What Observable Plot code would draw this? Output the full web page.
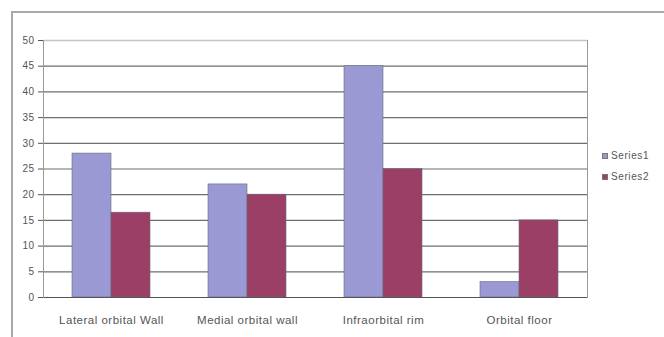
<!DOCTYPE html>
<html>
<head>
<meta charset="utf-8">
<script src="https://cdn.jsdelivr.net/npm/d3@7"></script>
<script src="https://cdn.jsdelivr.net/npm/@observablehq/plot@0.6"></script>
<style>
  html, body { margin: 0; padding: 0; background: #fff; }
  #wrap { position: relative; width: 664px; height: 337px; overflow: hidden; font-family: "Liberation Sans", Arial, sans-serif; }
  #border { position: absolute; left: 11px; top: 11px; width: 720px; height: 400px; border-left: 2px solid #a8a8a8; border-top: 2px solid #a8a8a8; }
  #chart { position: absolute; left: 0; top: 0; }
  #legend { position: absolute; left: 602px; top: 149px; font-size: 10px; letter-spacing: 0.6px; color: #555; }
  #legend div { display: flex; align-items: center; height: 13px; margin-bottom: 8px; }
  #legend span.sw { display: inline-block; width: 6px; height: 6px; margin-right: 3px; border: 1px solid #777; box-sizing: border-box; }
</style>
</head>
<body>
<div id="wrap">
  <div id="border"></div>
  <div id="chart"></div>
  <div id="legend"></div>
</div>
<script>
const categories = ["Lateral orbital Wall", "Medial orbital wall", "Infraorbital rim", "Orbital floor"];
const seriesNames = ["Series1", "Series2"];
const series1 = [28, 22, 45, 3];
const series2 = [16.5, 20, 25, 15];
const yTicks = [0, 5, 10, 15, 20, 25, 30, 35, 40, 45, 50];
const colors = ["#9b99d4", "#9c3f66"];

const data = [];
categories.forEach((c, i) => {
  data.push({cat: c, series: seriesNames[0], value: series1[i]});
  data.push({cat: c, series: seriesNames[1], value: series2[i]});
});

const plot = Plot.plot({
  width: 664,
  height: 337,
  marginLeft: 43,
  marginRight: 77,
  marginTop: 40,
  marginBottom: 40,
  style: {fontFamily: "Liberation Sans, Arial, sans-serif", background: "transparent", color: "#555"},
  fx: {domain: categories, padding: 0, label: null, tickSize: 0, tickPadding: 18},
  x: {domain: seriesNames, axis: null, paddingInner: 0, paddingOuter: 0.74},
  y: {domain: [0, 50], ticks: yTicks, label: null, tickSize: 5, tickPadding: 4},
  color: {domain: seriesNames, range: colors},
  marks: [
    Plot.ruleY(yTicks.filter(d => d > 0 && d < 50), {stroke: "#6e6e6e", strokeWidth: 1.2}),
    Plot.ruleY([50], {stroke: "#c4c4c4", strokeWidth: 1.5}),
    Plot.barY(data, {fx: "cat", x: "series", y: "value", fill: "series", stroke: "#6a6a7a", strokeWidth: 0.6}),
    Plot.ruleY([0], {stroke: "#555", strokeWidth: 1.2}),
    Plot.frame({anchor: "left", stroke: "#999", facetAnchor: "left"}),
    Plot.frame({anchor: "right", stroke: "#999", facetAnchor: "right"})
  ]
});
plot.querySelectorAll("[aria-label='y-axis tick label'] text, [aria-label='y-axis'] text").forEach(t => {
  t.style.fontSize = "10px"; t.style.letterSpacing = "0.5px";
});
plot.querySelectorAll("[aria-label='fx-axis tick label'] text, [aria-label='fx-axis'] text").forEach(t => {
  t.style.fontSize = "11.5px"; t.style.letterSpacing = "0.5px";
});
document.getElementById("chart").appendChild(plot);

const legend = document.getElementById("legend");
seriesNames.forEach((s, i) => {
  const row = document.createElement("div");
  const sw = document.createElement("span");
  sw.className = "sw";
  sw.style.background = colors[i];
  row.appendChild(sw);
  row.appendChild(document.createTextNode(s));
  legend.appendChild(row);
});
</script>
</body>
</html>
